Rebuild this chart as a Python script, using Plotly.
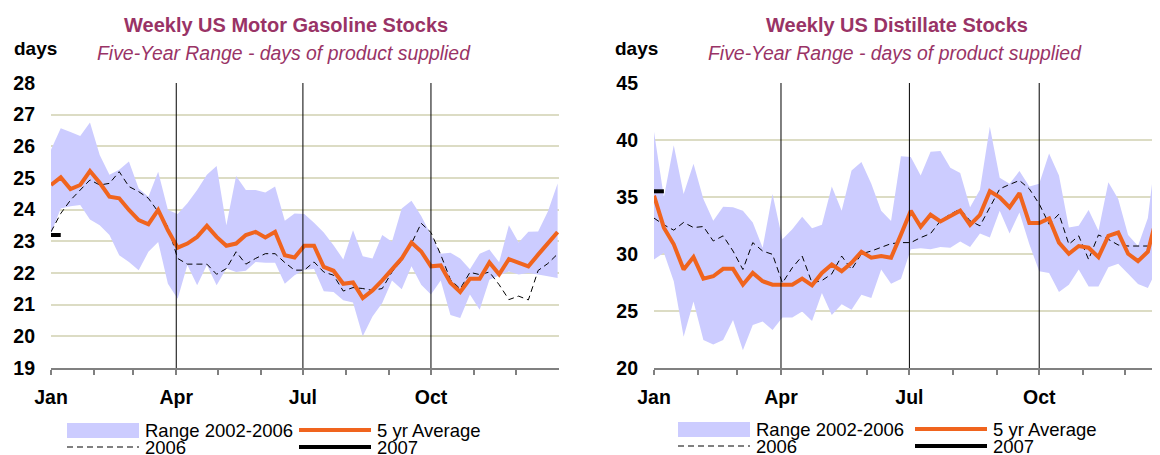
import plotly.graph_objects as go

# The page adds an 8px body margin, so the figure is 8px smaller than the
# window and every reference pixel is shifted by OFF.
WIN_W, WIN_H = 1160, 455
OFF = 8
W, H = WIN_W - OFF, WIN_H - OFF

# ------------------------------------------------------------------
# Data: weekly points (day of year), 53 weeks
# ------------------------------------------------------------------
week_day = list(range(0, 365, 7))
month_starts = [0, 31, 59, 90, 120, 151, 181, 212, 243, 273, 304, 334]
label_days = [0, 90, 181, 273]
label_text = ["Jan", "Apr", "Jul", "Oct"]
quarter_lines = [90, 181, 273]

# Motor gasoline, days of supply
gas_low = [23.25, 24.04, 24.11, 24.15, 23.69, 23.51, 23.20, 22.56, 22.35, 22.09,
           22.67, 22.98, 21.66, 21.19, 22.25, 21.61, 22.25, 21.61, 22.14, 22.03,
           22.07, 22.35, 22.32, 22.32, 21.66, 21.93, 22.10, 22.13, 21.42, 21.40,
           21.14, 21.07, 20.00, 20.63, 21.05, 21.76, 21.49, 22.21, 21.63, 21.32,
           21.76, 20.67, 20.58, 21.32, 20.84, 21.79, 21.92, 22.05, 21.95, 22.00,
           21.95, 21.90, 21.84]
gas_high = [25.89, 26.57, 26.45, 26.33, 26.75, 25.73, 25.10, 25.26, 25.52, 24.67,
            24.41, 25.20, 23.99, 23.86, 24.20, 24.62, 25.10, 25.38, 23.51, 25.06,
            24.62, 24.62, 24.54, 24.73, 23.65, 23.88, 23.86, 23.59, 23.28, 22.88,
            22.43, 23.35, 22.53, 22.46, 23.20, 22.99, 24.04, 24.28, 23.80, 23.20,
            22.61, 22.64, 22.46, 22.12, 22.61, 22.74, 22.34, 23.51, 22.96, 23.30,
            23.31, 23.94, 24.83]
gas_avg = [24.78, 25.02, 24.65, 24.78, 25.22, 24.85, 24.41, 24.36, 23.99, 23.67,
           23.54, 23.99, 23.35, 22.80, 22.93, 23.14, 23.49, 23.14, 22.86, 22.93,
           23.20, 23.30, 23.12, 23.30, 22.56, 22.49, 22.86, 22.86, 22.19, 22.07,
           21.66, 21.70, 21.21, 21.45, 21.77, 22.14, 22.46, 22.96, 22.68, 22.21,
           22.24, 21.69, 21.40, 21.82, 21.82, 22.33, 21.96, 22.44, 22.32, 22.21,
           22.58, 22.94, 23.29]
gas_2006 = [23.30, 23.88, 24.30, 24.62, 24.94, 24.78, 24.83, 25.20, 24.73, 24.57,
            24.36, 23.93, 23.46, 22.46, 22.28, 22.28, 22.28, 21.96, 22.14, 22.67,
            22.28, 22.46, 22.61, 22.61, 22.33, 22.09, 22.09, 22.35, 22.03, 21.93,
            21.43, 21.54, 21.51, 21.45, 21.51, 22.03, 22.40, 22.93, 23.57, 23.28,
            22.58, 21.79, 21.50, 22.02, 21.95, 22.03, 21.63, 21.16, 21.27, 21.15,
            22.08, 22.30, 22.60]
gas_2007 = [23.2, 23.2]

# Distillate, days of supply
dist_low = [29.52, 30.11, 27.61, 22.74, 25.84, 22.45, 22.06, 22.45, 24.22, 21.56,
            23.77, 24.07, 23.33, 24.42, 24.42, 24.95, 24.13, 26.57, 24.66, 25.60,
            25.10, 26.43, 26.13, 28.64, 27.40, 27.80, 30.41, 30.50, 30.41, 30.61,
            30.55, 31.09, 30.61, 31.79, 31.44, 33.80, 31.79, 33.65, 30.85, 28.49,
            28.34, 26.66, 27.31, 28.64, 27.16, 27.16, 28.84, 29.14, 28.26, 27.37,
            27.02, 28.79, 29.50]
dist_high = [40.73, 34.98, 39.55, 35.27, 37.92, 34.83, 32.91, 34.15, 34.09, 33.80,
             32.77, 30.55, 35.27, 31.29, 32.18, 33.27, 32.26, 32.56, 35.92, 33.80,
             37.33, 38.07, 36.16, 33.80, 32.90, 38.57, 38.51, 36.89, 38.96, 39.04,
             37.57, 37.10, 34.09, 35.63, 41.17, 36.69, 36.16, 37.28, 35.92, 36.16,
             38.81, 36.89, 32.32, 32.47, 33.86, 32.03, 36.30, 34.83, 31.67, 30.70,
             33.15, 40.30, 41.50]
dist_avg = [35.12, 32.31, 30.85, 28.64, 29.73, 27.84, 28.05, 28.70, 28.70, 27.31,
            28.34, 27.61, 27.31, 27.31, 27.31, 27.84, 27.25, 28.34, 29.08, 28.49,
            29.23, 30.20, 29.67, 29.82, 29.67, 31.70, 33.80, 32.38, 33.44, 32.85,
            33.35, 33.80, 32.56, 33.44, 35.51, 34.98, 34.09, 35.33, 32.71, 32.71,
            33.12, 31.00, 30.02, 30.70, 30.55, 29.73, 31.59, 31.88, 30.02, 29.37,
            30.20, 33.60, 34.60]
dist_2006 = [33.15, 32.56, 32.09, 32.77, 32.32, 32.41, 31.14, 31.59, 30.26, 28.64,
             31.00, 30.26, 29.97, 27.46, 28.79, 29.82, 27.46, 27.67, 28.26, 29.82,
             28.64, 30.02, 30.26, 30.55, 30.91, 31.00, 31.00, 31.44, 31.79, 32.91,
             33.50, 33.94, 32.91, 32.47, 34.09, 35.71, 36.10, 36.45, 35.71, 34.39,
             32.62, 33.50, 30.85, 31.59, 29.52, 31.67, 31.29, 30.79, 30.70, 30.70,
             30.70, 31.50, 32.50]
dist_2007 = [35.5, 35.5]

# ------------------------------------------------------------------
# Styles
# ------------------------------------------------------------------
FONT = "Liberation Sans"
BAND = "#ccccff"
ORANGE = "#f0641e"
GRID = "#dcdcc4"
AXIS = "#808080"
TITLE_COLOR = "#993366"


def px(x, y):
    # window pixel -> paper fraction
    return (x - OFF) / W, 1 - (y - OFF) / H


fig = go.Figure()


def add_chart(xa, ya, low, high, avg, y2006, y2007):
    fig.add_trace(go.Scatter(x=week_day, y=low, mode="lines", line=dict(width=0),
                             showlegend=False, hoverinfo="skip", xaxis=xa, yaxis=ya))
    fig.add_trace(go.Scatter(x=week_day, y=high, mode="lines", line=dict(width=0),
                             fill="tonexty", fillcolor=BAND, name="Range 2002-2006",
                             showlegend=False, xaxis=xa, yaxis=ya))
    fig.add_trace(go.Scatter(x=week_day, y=y2006, mode="lines", name="2006",
                             line=dict(color="black", width=1, dash="6px,4px"),
                             showlegend=False, xaxis=xa, yaxis=ya))
    fig.add_trace(go.Scatter(x=week_day, y=avg, mode="lines", name="5 yr Average",
                             line=dict(color=ORANGE, width=4),
                             showlegend=False, xaxis=xa, yaxis=ya))
    fig.add_trace(go.Scatter(x=week_day[:len(y2007)], y=y2007, mode="lines", name="2007",
                             line=dict(color="black", width=4),
                             showlegend=False, xaxis=xa, yaxis=ya))


add_chart("x", "y", gas_low, gas_high, gas_avg, gas_2006, gas_2007)
add_chart("x2", "y2", dist_low, dist_high, dist_avg, dist_2006, dist_2007)

_, y_top = px(0, 83)
_, y_bot = px(0, 368)
y_dom = [y_bot, y_top]
tickfont = dict(family=FONT, size=19.5, color="black", weight="bold")


def x_axis(x0, x1, rng, anchor):
    return dict(
        domain=[px(x0, 0)[0], min(px(x1, 0)[0], 1.0)], range=rng, anchor=anchor,
        automargin=False, tickmode="array", tickvals=label_days,
        ticktext=label_text, ticks="outside", ticklen=5, tickwidth=1.5,
        tickcolor=AXIS, showline=True, linecolor=AXIS, linewidth=1.5,
        showgrid=False, zeroline=False, tickfont=tickfont, ticklabelstandoff=6,
        minor=dict(tickmode="array",
                   tickvals=[d for d in month_starts if d not in label_days],
                   ticks="outside", ticklen=5, tickwidth=1.5, tickcolor=AXIS,
                   showgrid=False),
    )


def y_axis(rng, step, anchor):
    return dict(
        domain=y_dom, range=rng, anchor=anchor, automargin=False,
        tickmode="linear", tick0=rng[0], dtick=step,
        showgrid=True, gridcolor=GRID, gridwidth=1.5, zeroline=False,
        showline=False, ticks="", tickfont=tickfont, ticklabelstandoff=15,
    )


fig.update_layout(
    width=W, height=H, autosize=False,
    margin=dict(l=0, r=0, t=0, b=0, pad=0),
    paper_bgcolor="white", plot_bgcolor="white",
    showlegend=False,
    xaxis=x_axis(51, 559, [0, 365], "y"),
    yaxis=y_axis([19, 28], 1, "x"),
    xaxis2=x_axis(654, 1160, [0, 358.6], "y2"),
    yaxis2=y_axis([20, 45], 5, "x2"),
)

# quarter divider lines
for xa, ya in (("x", "y"), ("x2", "y2")):
    for d in quarter_lines:
        fig.add_shape(type="line", xref=xa, yref=f"{ya} domain", x0=d, x1=d,
                      y0=0, y1=1, line=dict(color="black", width=1), layer="above")


# titles
def text(x, y, s, size=19, color="black", weight="normal", style="normal",
         anchor="left"):
    ax, ay = px(x, y)
    fig.add_annotation(x=ax, y=ay, xref="paper", yref="paper", text=s,
                       showarrow=False, xanchor=anchor, yanchor="middle",
                       font=dict(family=FONT, size=size, color=color,
                                 weight=weight, style=style))


for cx, title, days_x in ((286, "Weekly US Motor Gasoline Stocks", 12),
                          (897, "Weekly US Distillate Stocks", 613)):
    text(cx, 25, title, size=20, color=TITLE_COLOR, weight="bold", anchor="center")
    text(cx - 2, 53, "Five-Year Range - days of product supplied", size=19.4,
         color=TITLE_COLOR, style="italic", anchor="center")
    text(days_x, 48, "days", weight="bold")


# legends (drawn as keys + labels below each chart)
def legend(x0, x1, y1, y2):
    ax0, ay = px(x0, y1 - 7)
    ax1, ay_b = px(x0 + 72, y1 + 8)
    fig.add_shape(type="rect", xref="paper", yref="paper", x0=ax0, x1=ax1,
                  y0=ay_b, y1=ay, fillcolor=BAND, line=dict(width=0))
    text(x0 + 76, y1, "Range 2002-2006", size=18.5)
    for xs, yy, col, wdt, dash in ((x1, y1, ORANGE, 4, "solid"),
                                   (x0, y2, "black", 1, "6px,4px"),
                                   (x1, y2, "black", 4, "solid")):
        a, b = px(xs, yy)
        c, _ = px(xs + 72, yy)
        fig.add_shape(type="line", xref="paper", yref="paper", x0=a, x1=c,
                      y0=b, y1=b, line=dict(color=col, width=wdt, dash=dash))
    text(x1 + 76, y1, "5 yr Average", size=18.5)
    text(x0 + 76, y2, "2006", size=18.5)
    text(x1 + 76, y2, "2007", size=18.5)


legend(67, 299, 430, 447)
legend(678, 915, 429, 446)

fig.write_html("out.html")
